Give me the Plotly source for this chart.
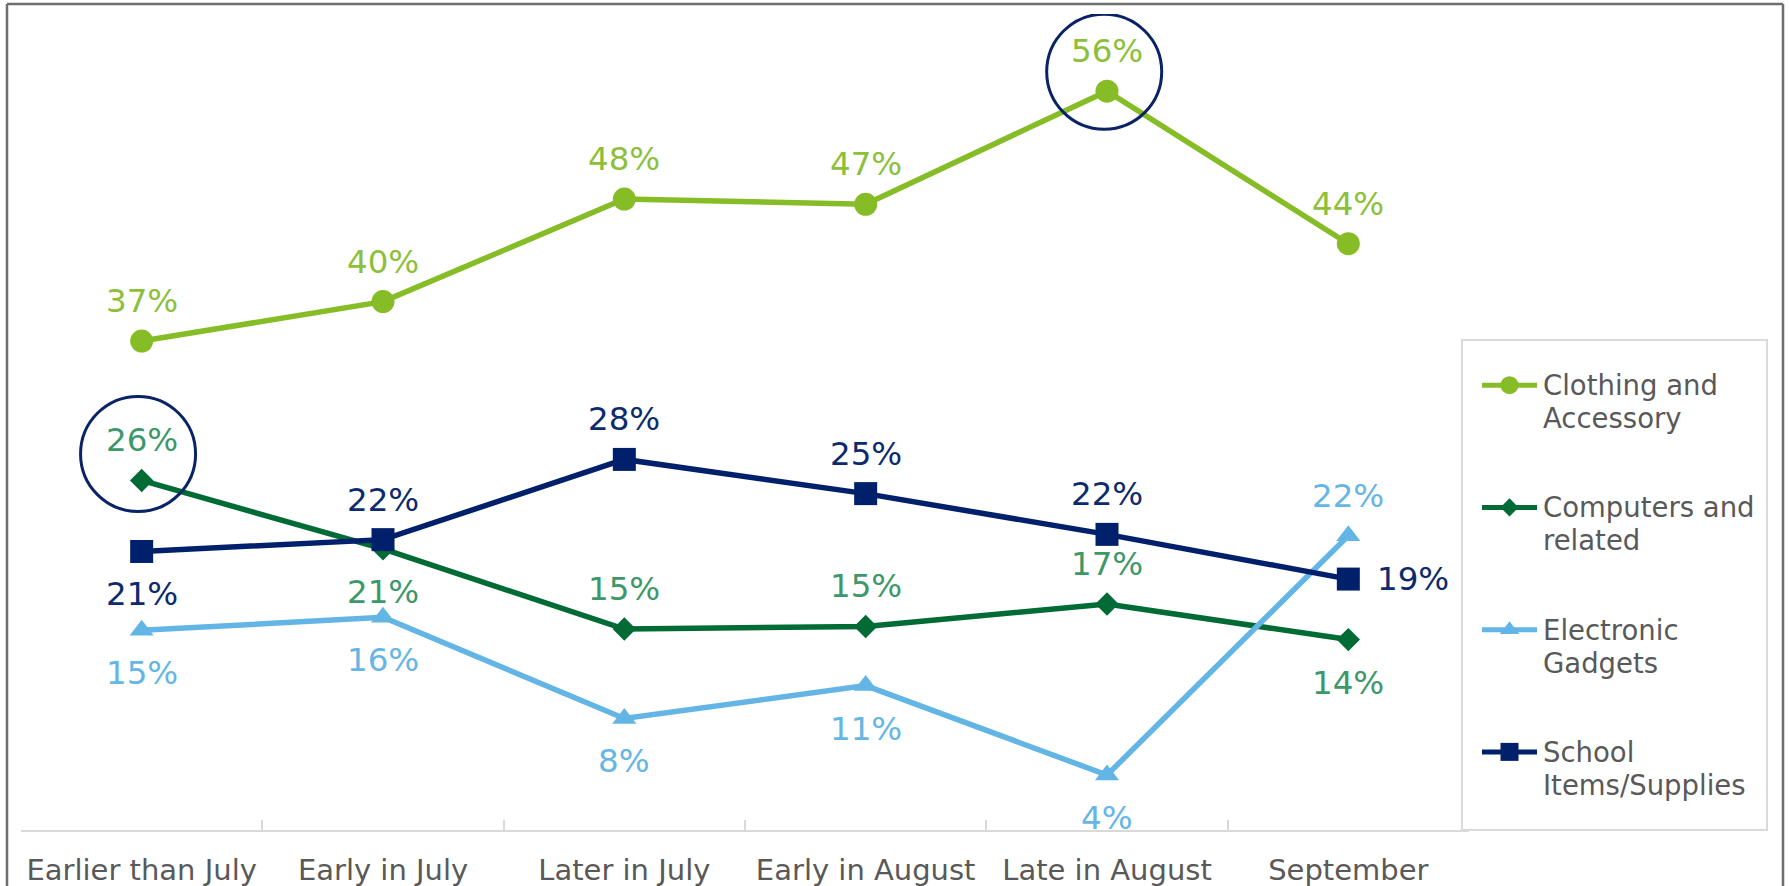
import plotly.graph_objects as go

# ---------------- data ----------------
categories = ["Earlier than July", "Early in July", "Later in July",
              "Early in August", "Late in August", "September"]
clothing = [37.0, 40.0, 47.8, 47.4, 56.0, 44.4]
computers = [26.4, 21.2, 15.1, 15.3, 17.0, 14.3]
electronics = [15.0, 16.0, 8.3, 10.8, 4.0, 22.2]
school = [21.0, 21.9, 28.0, 25.4, 22.3, 18.9]
series_names = ["Clothing and Accessory", "Computers and related",
                "Electronic Gadgets", "School Items/Supplies"]
legend_lines = [["Clothing and", "Accessory"], ["Computers and", "related"],
                ["Electronic", "Gadgets"], ["School", "Items/Supplies"]]

# ---------------- styles ----------------
W, H = 1789, 886
FONT = "DejaVu Sans"
line_colors = ["#86BC25", "#006B35", "#63B5E5", "#00206B"]
text_colors = ["#8DC03A", "#3D9869", "#65B6E6", "#0C2A6E"]
symbols = ["circle", "diamond", "triangle-up", "square"]
marker_sizes = [23, 18, 21, 23]
legend_marker_sizes = [18, 14, 17, 18]
label_pos = [
    ["a", "a", "a", "a", "a", "a"],
    ["a", "b", "a", "a", "a", "b"],
    ["b", "b", "b", "b", "b", "a"],
    ["b", "a", "a", "a", "a", "r"],
]

# plot area in pixels
X0, X1 = 21, 1469
Y_TOP, Y_BOT = 14, 830
Y_MIN, Y_MAX = -0.18, 61.87
px_per_cat = (X1 - X0) / len(categories)
px_per_pct = (Y_BOT - Y_TOP) / (Y_MAX - Y_MIN)

def px(x):
    return x / W

def py(y):
    return 1 - y / H

all_series = [clothing, computers, electronics, school]

fig = go.Figure()
for i, vals in enumerate(all_series):
    fig.add_trace(go.Scatter(
        x=categories, y=vals, mode="lines+markers", name=series_names[i],
        line=dict(color=line_colors[i], width=5.5),
        marker=dict(symbol=symbols[i], size=marker_sizes[i], color=line_colors[i],
                    line=dict(width=0)),
        showlegend=False, hoverinfo="skip"))

# data labels
annotations = []
for i, vals in enumerate(all_series):
    for j, v in enumerate(vals):
        pos = label_pos[i][j]
        xs, ys = 0, 0
        if pos == "a":
            ys = 40
        elif pos == "b":
            ys = -43
        else:
            xs = 65
        annotations.append(dict(
            x=categories[j], y=v, xref="x", yref="y", text=f"{round(v)}%",
            showarrow=False, xanchor="center", yanchor="middle",
            xshift=xs, yshift=ys,
            font=dict(family=FONT, size=32.5, color=text_colors[i])))

# legend (custom box on secondary axes)
leg_box = dict(x0=1462, x1=1767, y0=340, y1=830)
for i in range(4):
    fig.add_trace(go.Scatter(
        x=[0, 1], y=[i, i], mode="lines", xaxis="x2", yaxis="y2",
        line=dict(color=line_colors[i], width=5),
        showlegend=False, hoverinfo="skip"))
    fig.add_trace(go.Scatter(
        x=[0.5], y=[i], mode="markers", xaxis="x2", yaxis="y2",
        marker=dict(symbol=symbols[i], size=legend_marker_sizes[i],
                    color=line_colors[i], line=dict(width=0)),
        showlegend=False, hoverinfo="skip"))
    for k, t in enumerate(legend_lines[i]):
        annotations.append(dict(
            x=px(1541), y=i, xref="paper", yref="y2", text=t, showarrow=False,
            xanchor="left", yanchor="middle", yshift=-33 * k,
            font=dict(family=FONT, size=27.5, color="#595959")))

shapes = []
# legend box
shapes.append(dict(type="rect", xref="paper", yref="paper",
                   x0=px(leg_box["x0"]), x1=px(leg_box["x1"]),
                   y0=py(leg_box["y1"]), y1=py(leg_box["y0"]),
                   line=dict(color="#D9D9D9", width=2), fillcolor="white",
                   layer="below"))
# outer frame
frame_col = "#6E6E6E"
shapes.append(dict(type="line", xref="paper", yref="paper",
                   x0=px(7), x1=px(1783), y0=py(4), y1=py(4),
                   line=dict(color=frame_col, width=2.5)))
shapes.append(dict(type="line", xref="paper", yref="paper",
                   x0=px(7), x1=px(7), y0=py(4), y1=0,
                   line=dict(color=frame_col, width=2.5)))
shapes.append(dict(type="line", xref="paper", yref="paper",
                   x0=px(1783), x1=px(1783), y0=py(4), y1=0,
                   line=dict(color=frame_col, width=2.5)))

# highlight circles
highlights = [(0, 4, -2.8, 19.5), (1, 0, -3.6, 26.5)]  # series, index, dx px, dy px (up)
R = 57.5
for s, j, dxp, dyp in highlights:
    cx = j + dxp / px_per_cat
    cy = all_series[s][j] + dyp / px_per_pct
    shapes.append(dict(type="circle", xref="x", yref="y",
                       x0=cx - R / px_per_cat, x1=cx + R / px_per_cat,
                       y0=cy - R / px_per_pct, y1=cy + R / px_per_pct,
                       line=dict(color="#0A2366", width=3), layer="above"))

fig.update_layout(
    width=W, height=H, margin=dict(l=0, r=0, t=0, b=0, autoexpand=False),
    paper_bgcolor="white", plot_bgcolor="rgba(0,0,0,0)",
    showlegend=False,
    xaxis=dict(type="category", domain=[px(X0), px(X1)], range=[-0.5, 5.5],
               showline=True, linecolor="#D9D9D9", linewidth=2,
               ticks="inside", tickson="boundaries", ticklen=10,
               tickcolor="#D9D9D9", tickwidth=1.5, showgrid=False,
               zeroline=False, ticklabelstandoff=13, tickangle=0,
               automargin=False,
               tickfont=dict(family=FONT, size=29, color="#595959")),
    yaxis=dict(domain=[py(Y_BOT), py(Y_TOP)], range=[Y_MIN, Y_MAX],
               visible=False, showgrid=False, zeroline=False, automargin=False),
    xaxis2=dict(domain=[px(1482), px(1537)], range=[0, 1], anchor="y2",
                visible=False),
    yaxis2=dict(domain=[py(813), py(324)], range=[3.5, -0.5], anchor="x2",
                visible=False),
    annotations=annotations, shapes=shapes,
)

post = """
document.body.style.margin='0px';
document.documentElement.style.overflow='hidden';
document.body.style.overflow='hidden';
"""
fig.write_html("out.html", config={"displayModeBar": False}, post_script=post)
